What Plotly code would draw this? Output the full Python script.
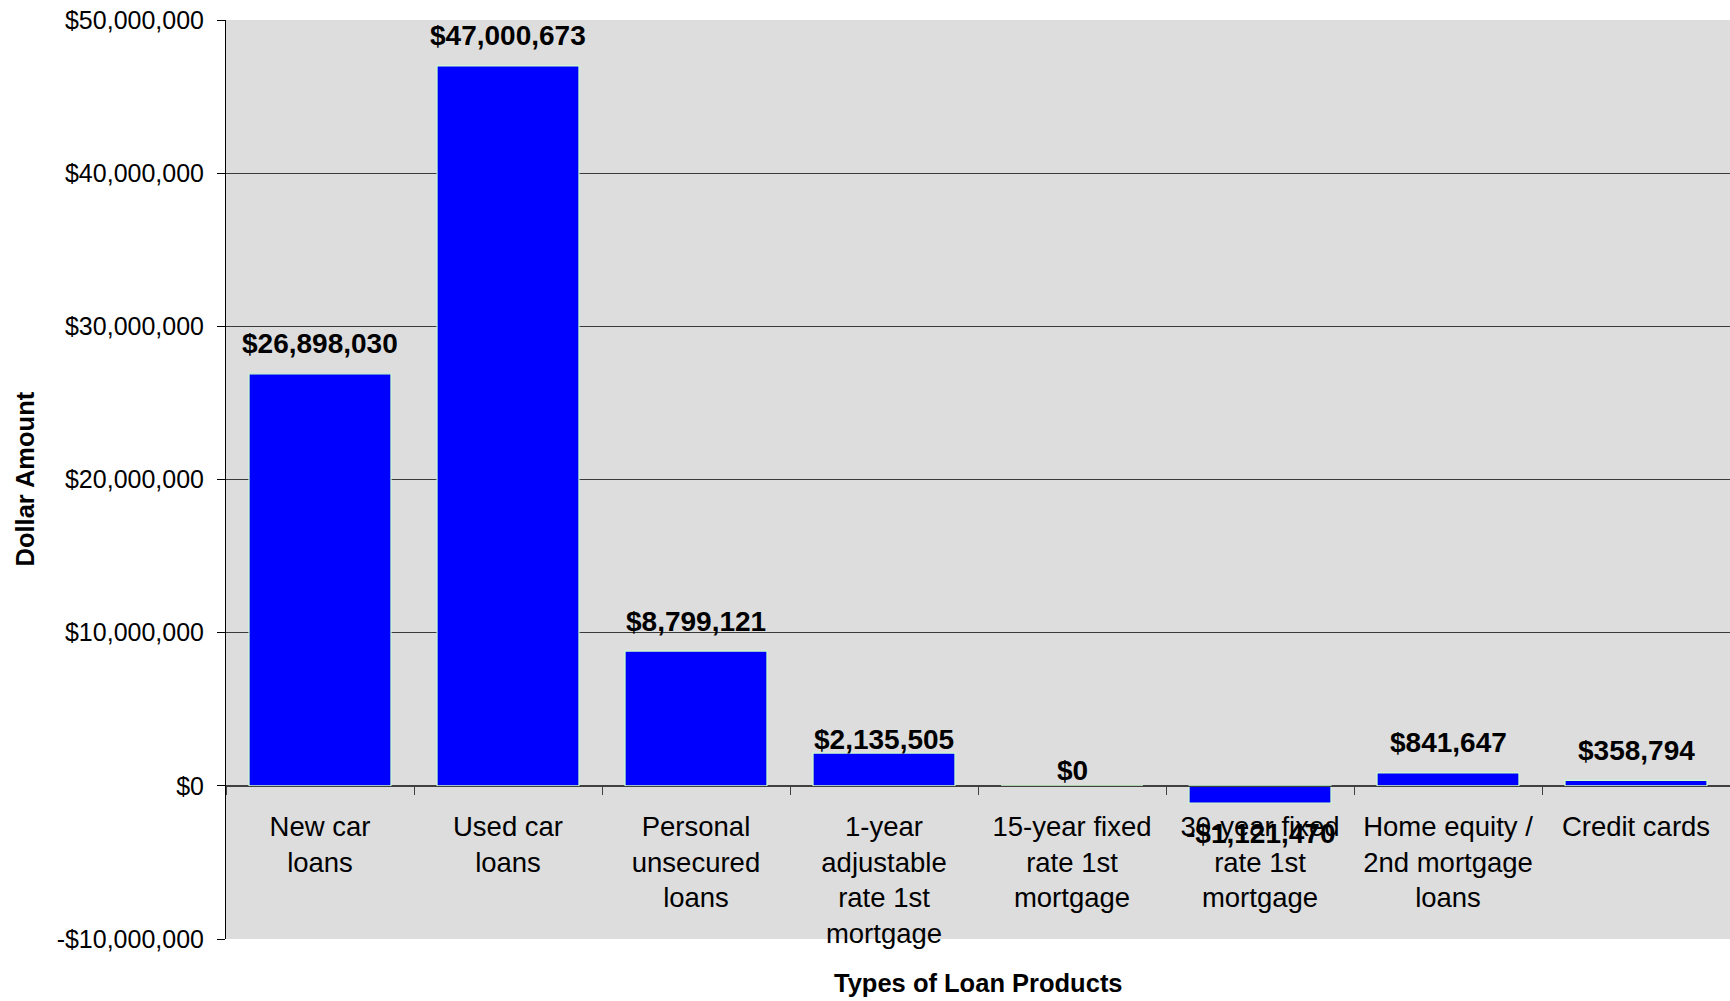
import plotly.graph_objects as go

# Loan product totals (USD)
categories = [
    "New car loans",
    "Used car loans",
    "Personal unsecured loans",
    "1-year adjustable rate 1st mortgage",
    "15-year fixed rate 1st mortgage",
    "30-year fixed rate 1st mortgage",
    "Home equity / 2nd mortgage loans",
    "Credit cards",
]
category_labels = [
    "New car<br>loans",
    "Used car<br>loans",
    "Personal<br>unsecured<br>loans",
    "1-year<br>adjustable<br>rate 1st<br>mortgage",
    "15-year fixed<br>rate 1st<br>mortgage",
    "30-year fixed<br>rate 1st<br>mortgage",
    "Home equity /<br>2nd mortgage<br>loans",
    "Credit cards",
]
amounts = [26898030, 47000673, 8799121, 2135505, 0, -1121470, 841647, 358794]

y_tick_values = [-10000000, 0, 10000000, 20000000, 30000000, 40000000, 50000000]
y_tick_labels = ["-$10,000,000", "$0", "$10,000,000", "$20,000,000",
                 "$30,000,000", "$40,000,000", "$50,000,000"]

# distance (px) between the end of each bar and its value label
label_gap = [30, 30, 30, 14, 15, 30, 30, 30]

FONT = "Liberation Sans, Arial, sans-serif"
y_min, y_max = -10000000, 50000000


def money(v):
    return ("-$" if v < 0 else "$") + f"{abs(v):,.0f}"


fig = go.Figure(
    go.Bar(
        x=categories,
        y=amounts,
        marker=dict(color="#0000ff", line=dict(color="#ccffcc", width=1.2)),
        hoverinfo="skip",
    )
)

for cat, val, gap in zip(categories, amounts, label_gap):
    fig.add_annotation(
        x=cat, y=val, xref="x", yref="y",
        text=f"<b>{money(val)}</b>",
        showarrow=False,
        yanchor="middle",
        yshift=-gap if val < 0 else gap,
        font=dict(family=FONT, size=28, color="black"),
    )

# axis titles
fig.add_annotation(
    x=0.5, y=0, xref="paper", yref="paper",
    text="<b>Types of Loan Products</b>", showarrow=False,
    yanchor="middle", yshift=-44,
    font=dict(family=FONT, size=25.5, color="black"),
)
fig.add_annotation(
    x=0, y=0.5, xref="paper", yref="paper",
    text="<b>Dollar Amount</b>", showarrow=False, textangle=-90,
    xanchor="center", xshift=-202,
    font=dict(family=FONT, size=25.5, color="black"),
)

fig.update_layout(
    width=1730,
    height=1001,
    margin=dict(l=226, r=0, t=20, b=62),
    paper_bgcolor="white",
    plot_bgcolor="#dddddd",
    bargap=0.245,
    showlegend=False,
    font=dict(family=FONT, color="black"),
    xaxis=dict(
        type="category",
        tickvals=categories,
        ticktext=category_labels,
        anchor="free",
        position=(0 - y_min) / (y_max - y_min),
        showline=True,
        linecolor="#404040",
        linewidth=1,
        ticks="outside",
        tickson="boundaries",
        ticklen=8,
        tickcolor="#404040",
        ticklabelstandoff=16,
        showgrid=False,
        tickfont=dict(family=FONT, size=27.5, color="black"),
    ),
    yaxis=dict(
        range=[y_min, y_max],
        tickvals=y_tick_values,
        ticktext=y_tick_labels,
        showgrid=True,
        gridcolor="#3a3a3a",
        gridwidth=1,
        zeroline=True,
        zerolinecolor="#404040",
        zerolinewidth=1.5,
        showline=True,
        linecolor="black",
        linewidth=1,
        ticks="outside",
        ticklen=8,
        tickcolor="black",
        ticklabelstandoff=8,
        tickfont=dict(family=FONT, size=25, color="black"),
    ),
)

fig.write_html("out.html")
